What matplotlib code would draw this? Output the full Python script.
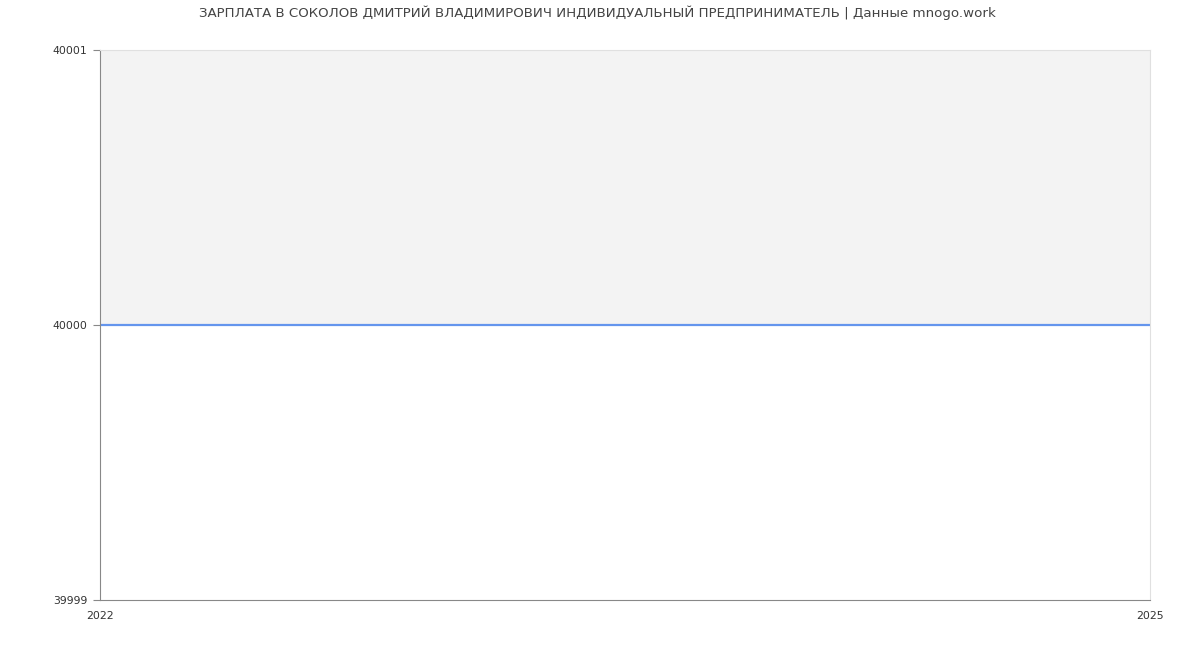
import matplotlib
matplotlib.use("Agg")
import matplotlib.pyplot as plt

years = [2022, 2025]
salary = [40000, 40000]
y_ticks = [39999, 40000, 40001]
title = "ЗАРПЛАТА В СОКОЛОВ ДМИТРИЙ ВЛАДИМИРОВИЧ ИНДИВИДУАЛЬНЫЙ ПРЕДПРИНИМАТЕЛЬ | Данные mnogo.work"

fig = plt.figure(figsize=(12, 6.5), dpi=100)
ax = fig.add_axes([100 / 1200, 50 / 650, 1050 / 1200, 550 / 650])

ax.fill_between(years, salary, y_ticks[-1], color="#f3f3f3", linewidth=0)
ax.plot(years, salary, color="#6495ed", linewidth=1.6)

ax.set_xlim(years[0], years[-1])
ax.set_ylim(y_ticks[0], y_ticks[-1])
ax.set_xticks(years)
ax.set_xticklabels([str(y) for y in years])
ax.set_yticks(y_ticks)
ax.set_yticklabels([str(v) for v in y_ticks])
ax.tick_params(axis="y", length=5, color="#888888", labelsize=7.8, labelcolor="#333333", pad=4)
ax.tick_params(axis="x", length=0, labelsize=7.8, labelcolor="#333333", pad=8)
for lbl in ax.get_xticklabels():
    lbl.set_x(lbl.get_position()[0])
ax.get_xticklabels()[0].set_horizontalalignment("center")

for side in ("left", "bottom"):
    ax.spines[side].set_color("#888888")
for side in ("top", "right"):
    ax.spines[side].set_color("#e0e0e0")

fig.text(0.498, 1 - 13 / 650, title, ha="center", va="center", fontsize=9.65, color="#444444")

fig.savefig("out.png", dpi=100)
